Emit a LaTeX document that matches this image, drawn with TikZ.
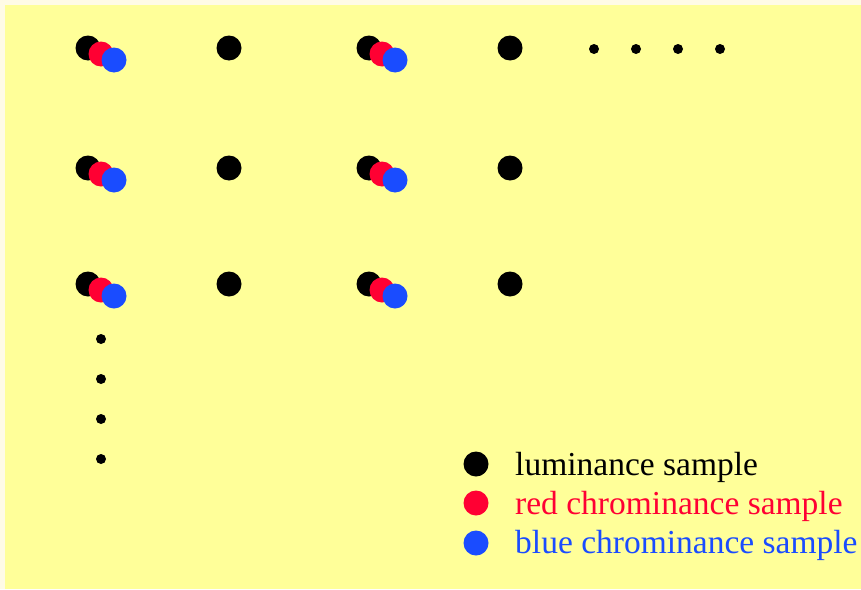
\documentclass[tikz,border=0pt]{standalone}
\usepackage{fontspec}
\setmainfont{Liberation Serif}
\definecolor{paper}{HTML}{FFFBE6}
\definecolor{pad}{HTML}{FFFF99}
\definecolor{redc}{HTML}{FF0033}
\definecolor{bluec}{HTML}{1A4CFF}
\tikzset{every node/.style={inner sep=0pt},
  luma/.style={circle, fill=black, minimum size=25pt},
  redsample/.style={circle, fill=redc, minimum size=25pt},
  bluesample/.style={circle, fill=bluec, minimum size=25pt},
  more/.style={circle, fill=black, minimum size=10pt},
  legtext/.style={anchor=base west, font=\fontsize{33.5}{40}\selectfont}}

\begin{document}
\begin{tikzpicture}[x=1pt,y=-1pt]
   \fill[paper] (0,0) rectangle (861,589);
   \fill[pad] (5,5) rectangle (861,589);
   \useasboundingbox (0,0) rectangle (861,589);
   % luminance grid
   \node[luma] (y11) at ( 88, 48) {};
   \node[luma] (y12) at (229, 48) {};
   \node[luma] (y13) at (369, 48) {};
   \node[luma] (y14) at (510, 48) {};
   \node[luma] (y21) at ( 88,168) {};
   \node[luma] (y22) at (229,168) {};
   \node[luma] (y23) at (369,168) {};
   \node[luma] (y24) at (510,168) {};
   \node[luma] (y31) at ( 88,284) {};
   \node[luma] (y32) at (229,284) {};
   \node[luma] (y33) at (369,284) {};
   \node[luma] (y34) at (510,284) {};
   % chrominance samples
   \node[redsample] (r11) at (101, 54) {};
   \node[redsample] (r13) at (382, 54) {};
   \node[redsample] (r21) at (101,174) {};
   \node[redsample] (r23) at (382,174) {};
   \node[redsample] (r31) at (101,290) {};
   \node[redsample] (r33) at (382,290) {};
   \node[bluesample] (b11) at (114, 60) {};
   \node[bluesample] (b13) at (395, 60) {};
   \node[bluesample] (b21) at (114,180) {};
   \node[bluesample] (b23) at (395,180) {};
   \node[bluesample] (b31) at (114,296) {};
   \node[bluesample] (b33) at (395,296) {};
   % continuation dots
   \node[more] (h1) at (594, 49) {};
   \node[more] (h2) at (636, 49) {};
   \node[more] (h3) at (678, 49) {};
   \node[more] (h4) at (720, 49) {};
   \node[more] (v1) at (101,339) {};
   \node[more] (v2) at (101,379) {};
   \node[more] (v3) at (101,419) {};
   \node[more] (v4) at (101,459) {};
   % legend
   \node[luma] (kl) at (476,464) {};
   \node[redsample] (kr) at (476,503) {};
   \node[bluesample] (kb) at (476,543) {};
   \node[legtext] (tl) at (515,475) {luminance sample};
   \node[legtext, text=redc] (tr) at (515,514) {red chrominance sample};
   \node[legtext, text=bluec] (tb) at (515,553) {blue chrominance sample};
\end{tikzpicture}
\end{document}
